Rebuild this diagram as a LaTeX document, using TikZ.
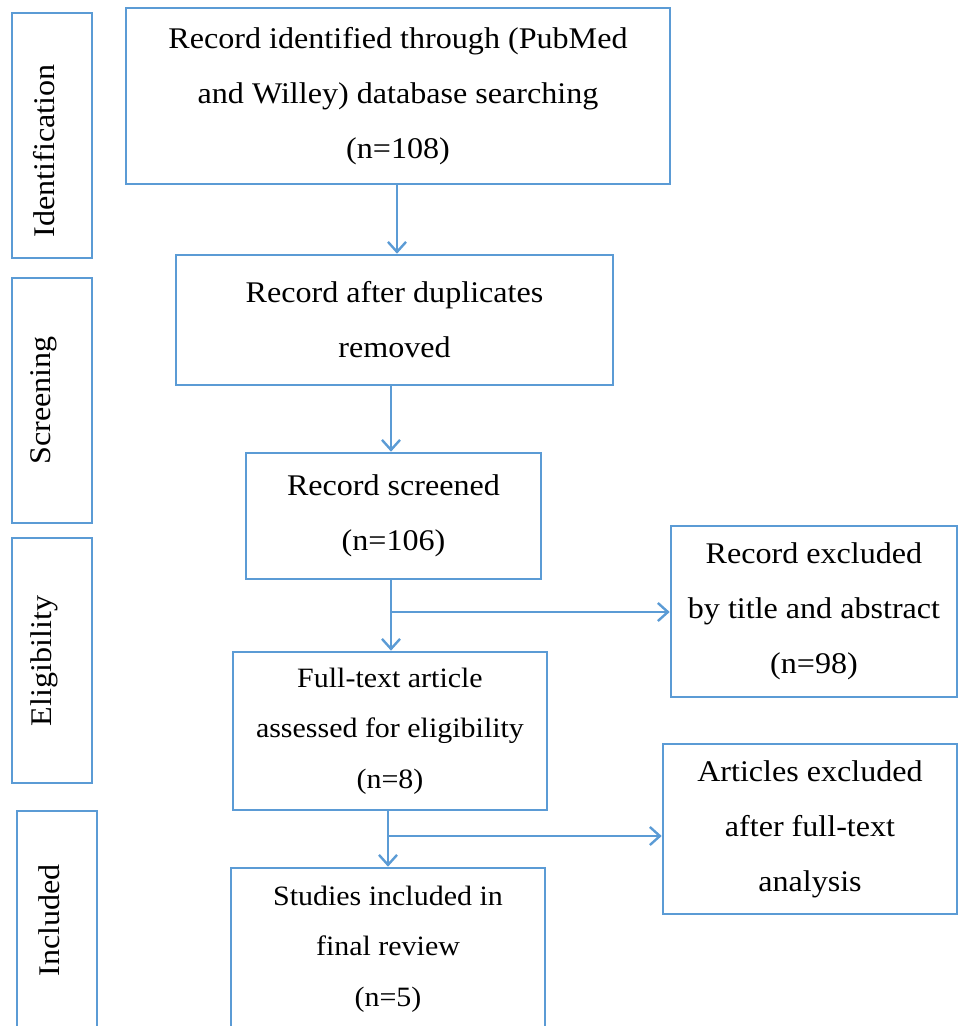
\documentclass[tikz,border=0pt]{standalone}
\usepackage{fontspec}
\setmainfont[FakeStretch=1.07]{Liberation Serif}
\usetikzlibrary{arrows.meta}
\definecolor{prisma}{RGB}{91,155,213}
\begin{document}
\begin{tikzpicture}[x=1pt,y=-1pt,
  box/.style={draw=prisma, line width=2.6pt, inner sep=0pt, align=center,
    font=\fontsize{30}{55}\selectfont},
  tightbox/.style={box, font=\fontsize{28}{50.5}\selectfont},
  sidebox/.style={draw=prisma, line width=2.6pt, inner sep=0pt, minimum width=80},
  sidetext/.style={rotate=90, inner sep=0pt, font=\fontsize{30}{36}\selectfont},
  conn/.style={draw=prisma, line width=2.4pt, -{Straight Barb[length=10pt,width=18pt,line width=2.4pt]}}]
\useasboundingbox (0,0) rectangle (958,1026);
% phase boxes
\node[sidebox, minimum height=245] (sid) at (52,135.5) {};
\node[sidetext] (tid) at (44,151) {Identification};
\node[sidebox, minimum height=245] (ssc) at (52,400.5) {};
\node[sidetext] (tsc) at (44,400.5) {Screening};
\node[sidebox, minimum height=245] (sel) at (52,660.5) {};
\node[sidetext] (tel) at (44,661) {Eligibility};
\node[sidebox, minimum height=219] (sin) at (57,920.5) {};
\node[sidetext] (tin) at (49,920.5) {Included};
% main boxes
\node[box, minimum width=544, minimum height=176] (b1) at (398,96) {Record identified through (PubMed\\and Willey) database searching\\(n=108)};
\node[box, minimum width=437, minimum height=130] (b2) at (394.5,320) {Record after duplicates\\removed};
\node[box, minimum width=295, minimum height=126] (b3) at (393.5,516) {Record screened\\(n=106)};
\node[tightbox, minimum width=314, minimum height=158] (b4) at (390,731) {Full-text article\\assessed for eligibility\\(n=8)};
\node[tightbox, minimum width=314, minimum height=162] (b5) at (388,949) {Studies included in\\final review\\(n=5)};
\node[box, minimum width=286, minimum height=171] (r1) at (814,611.5) {Record excluded\\by title and abstract\\(n=98)};
\node[box, minimum width=294, minimum height=170] (r2) at (810,829) {Articles excluded\\after full-text\\analysis};
% connectors
\coordinate (a1) at (397,184);
\draw[conn] (a1) -- (a1 |- b2.north);
\coordinate (a2) at (391,385);
\draw[conn] (a2) -- (a2 |- b3.north);
\coordinate (a3) at (391,579);
\draw[conn] (a3) -- (a3 |- b4.north);
\coordinate (a4) at (388,810);
\draw[conn] (a4) -- (a4 |- b5.north);
\coordinate (j1) at (391,612);
\draw[conn] (j1) -- (j1 -| r1.west);
\coordinate (j2) at (388,836);
\draw[conn] (j2) -- (j2 -| r2.west);
\end{tikzpicture}
\end{document}
